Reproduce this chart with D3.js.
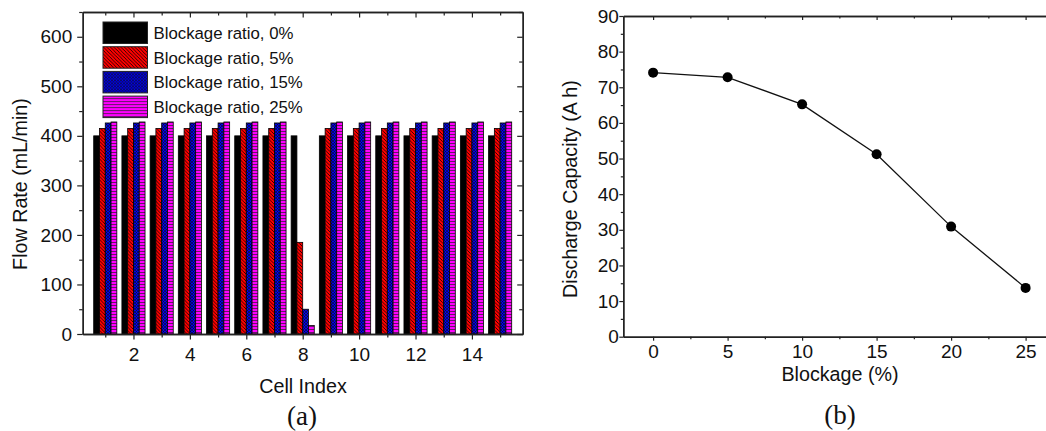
<!DOCTYPE html>
<html>
<head>
<meta charset="utf-8">
<script src="https://cdn.jsdelivr.net/npm/d3@7"></script>
<style>
  body { margin: 0; background: white; }
  svg text { font-family: "Liberation Sans", Arial, sans-serif; }
</style>
</head>
<body>
<main></main>
<script>
// chart (a): flow rate per cell
const cells = [1, 2, 3, 4, 5, 6, 7, 8, 9, 10, 11, 12, 13, 14, 15]
const series = ["Blockage ratio, 0%", "Blockage ratio, 5%", "Blockage ratio, 15%", "Blockage ratio, 25%"]
const flow0  = [400, 400, 400, 400, 400, 400, 400, 400, 400, 400, 400, 400, 400, 400, 400]
const flow5  = [415, 415, 415, 415, 415, 415, 415, 185, 415, 415, 415, 415, 415, 415, 415]
const flow15 = [426, 426, 426, 426, 426, 426, 426, 50, 426, 426, 426, 426, 426, 426, 426]
const flow25 = [428, 428, 428, 428, 428, 428, 428, 17, 428, 428, 428, 428, 428, 428, 428]
const flowTicks = [0, 100, 200, 300, 400, 500, 600]
const cellTicks = [2, 4, 6, 8, 10, 12, 14]

// chart (b): discharge capacity vs blockage
const blockage = [0, 5, 10, 15, 20, 25]
const capacity = [74.1, 72.8, 65.2, 51.2, 30.9, 13.7]
const capTicks = [0, 10, 20, 30, 40, 50, 60, 70, 80, 90]
const blockTicks = [0, 5, 10, 15, 20, 25]

const svgWidth = 1046
const svgHeight = 431

let svg = d3.select("main")
    .append("svg")
    .attr("width", svgWidth)
    .attr("height", svgHeight)

//patterns for the hatched bars
let defs = svg.append("defs")

let pRed = defs.append("pattern").attr("id", "pRed")
    .attr("patternUnits", "userSpaceOnUse").attr("width", 3.5).attr("height", 3.5)
pRed.append("rect").attr("width", 3.5).attr("height", 3.5).attr("fill", "#ff0000")
pRed.append("path").attr("d", "M-1,-1L4.5,4.5M-1,2.5L1,4.5M2.5,-1L4.5,1")
    .attr("stroke", "black").attr("stroke-width", 0.8)

let pBlue = defs.append("pattern").attr("id", "pBlue")
    .attr("patternUnits", "userSpaceOnUse").attr("width", 3).attr("height", 3)
pBlue.append("rect").attr("width", 3).attr("height", 3).attr("fill", "#0000ee")
pBlue.append("path").attr("d", "M0,0L3,3M3,0L0,3")
    .attr("stroke", "#111").attr("stroke-width", 0.6)

let pMag = defs.append("pattern").attr("id", "pMag")
    .attr("patternUnits", "userSpaceOnUse").attr("width", 3).attr("height", 3)
pMag.append("rect").attr("width", 3).attr("height", 3).attr("fill", "#ff00ff")
pMag.append("path").attr("d", "M0,2.5H3")
    .attr("stroke", "#222").attr("stroke-width", 0.7)

const fills = ["black", "url(#pRed)", "url(#pBlue)", "url(#pMag)"]

const tickFont = 19
const titleFont = 19.7

function styleAxis(g) {
    g.select(".domain").attr("stroke", "#222").attr("stroke-width", 1.4)
    g.selectAll("line").attr("stroke", "#222").attr("stroke-width", 1.2)
    g.selectAll("text").attr("fill", "#111").style("font-size", tickFont + "px")
        .style("font-family", "'Liberation Sans', Arial, sans-serif")
}

//minor tick helper: unlabeled short ticks
function minorAxis(axisFn, scale, values, size) {
    return axisFn(scale).tickValues(values).tickSize(size).tickFormat("").tickSizeOuter(0)
}

// ---------------- chart (a) ----------------
const a = { left: 82.7, right: 522.7, top: 12, bottom: 334 }

let xA = d3.scaleLinear().domain([0.2, 15.8]).range([a.left, a.right])
let yA = d3.scaleLinear().domain([0, 650]).range([a.bottom, a.top])

let groupWidth = xA(1.82) - xA(1)
let inner = d3.scaleBand().domain(series).range([-groupWidth / 2, groupWidth / 2])

let seriesData = [flow0, flow5, flow15, flow25]

let graphA = svg.append("g")
seriesData.forEach((vals, s) => {
    graphA.selectAll(".bar" + s)
        .data(cells)
        .enter()
        .append("rect")
        .attr("x", (d) => xA(d) + inner(series[s]))
        .attr("y", (d, i) => yA(vals[i]))
        .attr("width", inner.bandwidth())
        .attr("height", (d, i) => yA(0) - yA(vals[i]))
        .attr("fill", fills[s])
        .attr("stroke", "black")
        .attr("stroke-width", 0.8)
})

const cellMinor = [1, 3, 5, 7, 9, 11, 13, 15]
const flowMinor = [50, 150, 250, 350, 450, 550, 650]

//bottom axis
svg.append("g").attr("transform", `translate(0, ${a.bottom})`)
    .call(d3.axisBottom(xA).tickValues(cellTicks).tickSize(5.5).tickPadding(8).tickSizeOuter(0))
    .call(styleAxis)
svg.append("g").attr("transform", `translate(0, ${a.bottom})`)
    .call(minorAxis(d3.axisBottom, xA, cellMinor, 3.5))
    .call(styleAxis)

//top axis, ticks pointing in
svg.append("g").attr("transform", `translate(0, ${a.top})`)
    .call(minorAxis(d3.axisTop, xA, cellTicks, -5.5))
    .call(styleAxis)
svg.append("g").attr("transform", `translate(0, ${a.top})`)
    .call(minorAxis(d3.axisTop, xA, cellMinor, -3.5))
    .call(styleAxis)

//left axis
svg.append("g").attr("transform", `translate(${a.left}, 0)`)
    .call(d3.axisLeft(yA).tickValues(flowTicks).tickSize(5.5).tickPadding(5).tickSizeOuter(0))
    .call(styleAxis)
svg.append("g").attr("transform", `translate(${a.left}, 0)`)
    .call(minorAxis(d3.axisLeft, yA, flowMinor, 3.5))
    .call(styleAxis)

//right axis, ticks pointing in
svg.append("g").attr("transform", `translate(${a.right}, 0)`)
    .call(minorAxis(d3.axisRight, yA, flowTicks, -5.5))
    .call(styleAxis)
svg.append("g").attr("transform", `translate(${a.right}, 0)`)
    .call(minorAxis(d3.axisRight, yA, flowMinor, -3.5))
    .call(styleAxis)

//legend
let legend = svg.append("g").attr("transform", "translate(103, 22)")
series.forEach((name, i) => {
    let row = legend.append("g").attr("transform", `translate(0, ${i * 24.7})`)
    row.append("rect")
        .attr("width", 44.5)
        .attr("height", 21.5)
        .attr("fill", fills[i])
        .attr("stroke", "#222")
        .attr("stroke-width", 1)
    row.append("text")
        .attr("x", 50.5)
        .attr("y", 17)
        .attr("fill", "#111")
        .style("font-size", "16.8px")
        .text(name)
})

//axis titles
svg.append("text")
    .attr("transform", `translate(27, 184) rotate(-90)`)
    .attr("text-anchor", "middle")
    .attr("fill", "#111")
    .style("font-size", titleFont + "px")
    .text("Flow Rate (mL/min)")

svg.append("text")
    .attr("x", 303)
    .attr("y", 393)
    .attr("text-anchor", "middle")
    .attr("fill", "#111")
    .style("font-size", titleFont + "px")
    .text("Cell Index")

svg.append("text")
    .attr("x", 302)
    .attr("y", 425)
    .attr("text-anchor", "middle")
    .attr("fill", "#111")
    .style("font-size", "27px")
    .style("font-family", "'Liberation Serif', 'Times New Roman', serif")
    .text("(a)")

// ---------------- chart (b) ----------------
const b = { left: 623.3, top: 16, bottom: 336.7 }

let xB = d3.scaleLinear().domain([-2, 27]).range([b.left, b.left + 29 * 14.9])
let yB = d3.scaleLinear().domain([0, 90]).range([b.bottom, b.top])

const blockMinor = [2.5, 7.5, 12.5, 17.5, 22.5]
const capMinor = [5, 15, 25, 35, 45, 55, 65, 75, 85]

svg.append("g").attr("transform", `translate(0, ${b.bottom})`)
    .call(d3.axisBottom(xB).tickValues(blockTicks).tickSize(4).tickPadding(4).tickSizeOuter(0))
    .call(styleAxis)
svg.append("g").attr("transform", `translate(0, ${b.bottom})`)
    .call(minorAxis(d3.axisBottom, xB, blockMinor, 2.5))
    .call(styleAxis)

svg.append("g").attr("transform", `translate(0, ${b.top})`)
    .call(minorAxis(d3.axisTop, xB, blockTicks, -4))
    .call(styleAxis)
svg.append("g").attr("transform", `translate(0, ${b.top})`)
    .call(minorAxis(d3.axisTop, xB, blockMinor, -2.5))
    .call(styleAxis)

svg.append("g").attr("transform", `translate(${b.left}, 0)`)
    .call(d3.axisLeft(yB).tickValues(capTicks).tickSize(4).tickPadding(0.5).tickSizeOuter(0))
    .call(styleAxis)
svg.append("g").attr("transform", `translate(${b.left}, 0)`)
    .call(minorAxis(d3.axisLeft, yB, capMinor, 2.5))
    .call(styleAxis)

let line = d3.line()
    .x((d, i) => xB(blockage[i]))
    .y((d) => yB(d))

svg.append("path")
    .datum(capacity)
    .attr("d", line)
    .attr("fill", "none")
    .attr("stroke", "#111")
    .attr("stroke-width", 1.3)

svg.selectAll(".dot")
    .data(capacity)
    .enter()
    .append("circle")
    .attr("cx", (d, i) => xB(blockage[i]))
    .attr("cy", (d) => yB(d))
    .attr("r", 5)
    .attr("fill", "black")

svg.append("text")
    .attr("transform", `translate(577, 189) rotate(-90)`)
    .attr("text-anchor", "middle")
    .attr("fill", "#111")
    .style("font-size", titleFont + "px")
    .text("Discharge Capacity (A h)")

svg.append("text")
    .attr("x", 840)
    .attr("y", 381)
    .attr("text-anchor", "middle")
    .attr("fill", "#111")
    .style("font-size", titleFont + "px")
    .text("Blockage (%)")

svg.append("text")
    .attr("x", 840)
    .attr("y", 424)
    .attr("text-anchor", "middle")
    .attr("fill", "#111")
    .style("font-size", "27px")
    .style("font-family", "'Liberation Serif', 'Times New Roman', serif")
    .text("(b)")
</script>
</body>
</html>
